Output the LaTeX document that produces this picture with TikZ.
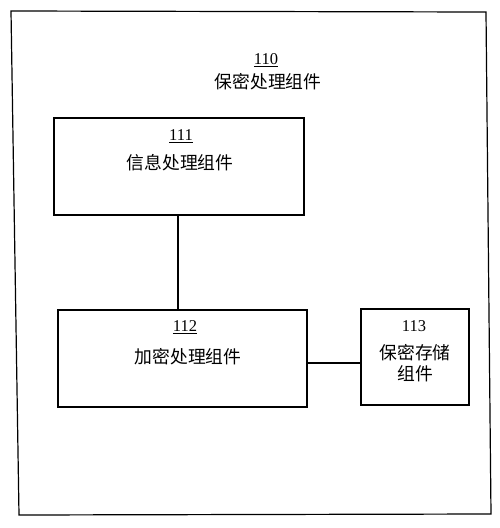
\documentclass[tikz,border=0pt]{standalone}
\usepackage{fontspec}
\setmainfont{Liberation Serif}
\newfontfamily\cjk{Noto Sans CJK SC}
\begin{document}
\begin{tikzpicture}[x=1pt,y=-1pt,
  box/.style={draw,line width=1.1pt,inner sep=0pt},
  lab/.style={inner sep=0pt,font=\fontsize{16.5}{18}\selectfont},
  cn/.style={inner sep=0pt,font=\fontsize{17.8}{20.5}\selectfont\cjk},
  wire/.style={line width=1.1pt}]
\useasboundingbox (0,0) rectangle (500,528);
\draw[line width=1.2pt] (11,11) -- (486,12) -- (491,514) -- (19,515) -- cycle;
\node[lab] (n110) at (266,60) {\underline{110}};
\node[cn] (t110) at (268,82) {保密处理组件};
\node[box,minimum width=250pt,minimum height=97pt] (b111) at (179,166.5) {};
\node[lab] (n111) at (181,136) {\underline{111}};
\node[cn] (t111) at (180,163) {信息处理组件};
\node[box,minimum width=249pt,minimum height=97pt] (b112) at (182.5,358.5) {};
\node[lab] (n112) at (185,327) {\underline{112}};
\node[cn] (t112) at (188,357) {加密处理组件};
\node[box,minimum width=108pt,minimum height=96pt] (b113) at (415,357) {};
\node[lab] (n113) at (414,326) {113};
\node[cn,align=center] (t113) at (415,363) {保密存储\\组件};
\draw[wire] (b111.south -| 178,0) -- (b112.north -| 178,0);
\draw[wire] (b112.east |- 0,363) -- (b113.west |- 0,363);
\end{tikzpicture}
\end{document}
